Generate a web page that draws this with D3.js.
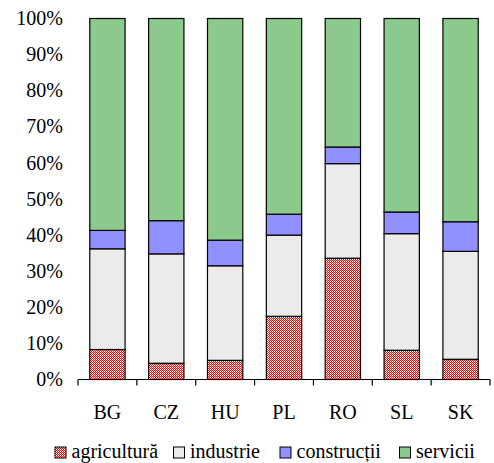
<!DOCTYPE html>
<html><head><meta charset="utf-8">
<script src="https://cdn.jsdelivr.net/npm/d3@7"></script>
<style>html,body{margin:0;padding:0;background:#fff;}svg{display:block;}
svg text{font-family:"Liberation Serif","Times New Roman",serif;font-size:20px;fill:#000;}</style>
</head><body><svg id="c" width="494" height="463"></svg>
<script>
const categories = ["BG","CZ","HU","PL","RO","SL","SK"];
const seriesNames = ["agricultură","industrie","construcții","servicii"];
const agricultura = [8.3, 4.5, 5.3, 17.5, 33.6, 8.1, 5.6];
const industrie   = [27.9, 30.3, 26.2, 22.5, 26.2, 32.3, 29.9];
const constructii = [5.1, 9.2, 7.1, 5.8, 4.6, 6.0, 8.2];
const servicii    = [58.7, 56.0, 61.4, 54.2, 35.6, 53.6, 56.3];
const yTicks = [0,10,20,30,40,50,60,70,80,90,100];

(function(){
const svg = d3.select("#c");
const defs = svg.append("defs");
const pat = defs.append("pattern").attr("id","agri").attr("width",2).attr("height",2).attr("patternUnits","userSpaceOnUse");
pat.append("rect").attr("width",2).attr("height",2).attr("fill","#ffffff");
pat.append("rect").attr("x",0).attr("y",0).attr("width",1).attr("height",1).attr("fill","#ff0000");
pat.append("rect").attr("x",1).attr("y",1).attr("width",1).attr("height",1).attr("fill","#ff0000");

const fills = ["url(#agri)","#ebebeb","#9090ff","#8cc98c"];
const data = [agricultura, industrie, constructii, servicii];

const mLeft = 78, mRight = 490, mTop = 18.5, mBottom = 379.5;
const x = d3.scaleBand().domain(categories).range([mLeft,mRight]).padding(0);
const y = d3.scaleLinear().domain([0,100]).range([mBottom, mTop]);

const rows = categories.map((c,i)=>{ const o={cat:c}; seriesNames.forEach((s,j)=>o[s]=data[j][i]); return o; });
const stack = d3.stack().keys(seriesNames)(rows);

const bw = x.bandwidth()*0.6;
stack.forEach((layer,j)=>{
  svg.append("g").selectAll("rect").data(layer).join("rect")
    .attr("x", d=>x(d.data.cat)+x.bandwidth()*0.2)
    .attr("y", d=>y(d[1]))
    .attr("width", bw)
    .attr("height", d=>y(d[0])-y(d[1]))
    .attr("fill", fills[j])
    .attr("stroke","#000").attr("stroke-width",1.2);
});

svg.append("g").selectAll("text").data(yTicks).join("text")
  .attr("x", 63).attr("y", d=>y(d)).attr("dy","0.33em")
  .attr("text-anchor","end")
  .text(d=>d+"%");

const xa = svg.append("g");
xa.append("line").attr("x1",mLeft).attr("x2",mRight).attr("y1",mBottom).attr("y2",mBottom).attr("stroke","#000").attr("stroke-width",1.2);
const bounds = categories.map(c=>x(c)).concat([mRight]);
xa.selectAll("line.t").data(bounds).join("line").attr("class","t")
  .attr("x1",d=>d).attr("x2",d=>d).attr("y1",mBottom).attr("y2",mBottom+6).attr("stroke","#000").attr("stroke-width",1.2);
xa.selectAll("text").data(categories).join("text")
  .attr("x", d=>x(d)+x.bandwidth()/2).attr("y", 418.5)
  .attr("text-anchor","middle").text(d=>d);

const legX = [55, 173.5, 280, 399.5];
const lg = svg.append("g");
seriesNames.forEach((s,j)=>{
  lg.append("rect").attr("x",legX[j]).attr("y",447).attr("width",11).attr("height",11)
    .attr("fill",fills[j]).attr("stroke","#000").attr("stroke-width",1);
  lg.append("text").attr("x",legX[j]+16.5).attr("y",458).text(s);
});
})();
</script></body></html>
